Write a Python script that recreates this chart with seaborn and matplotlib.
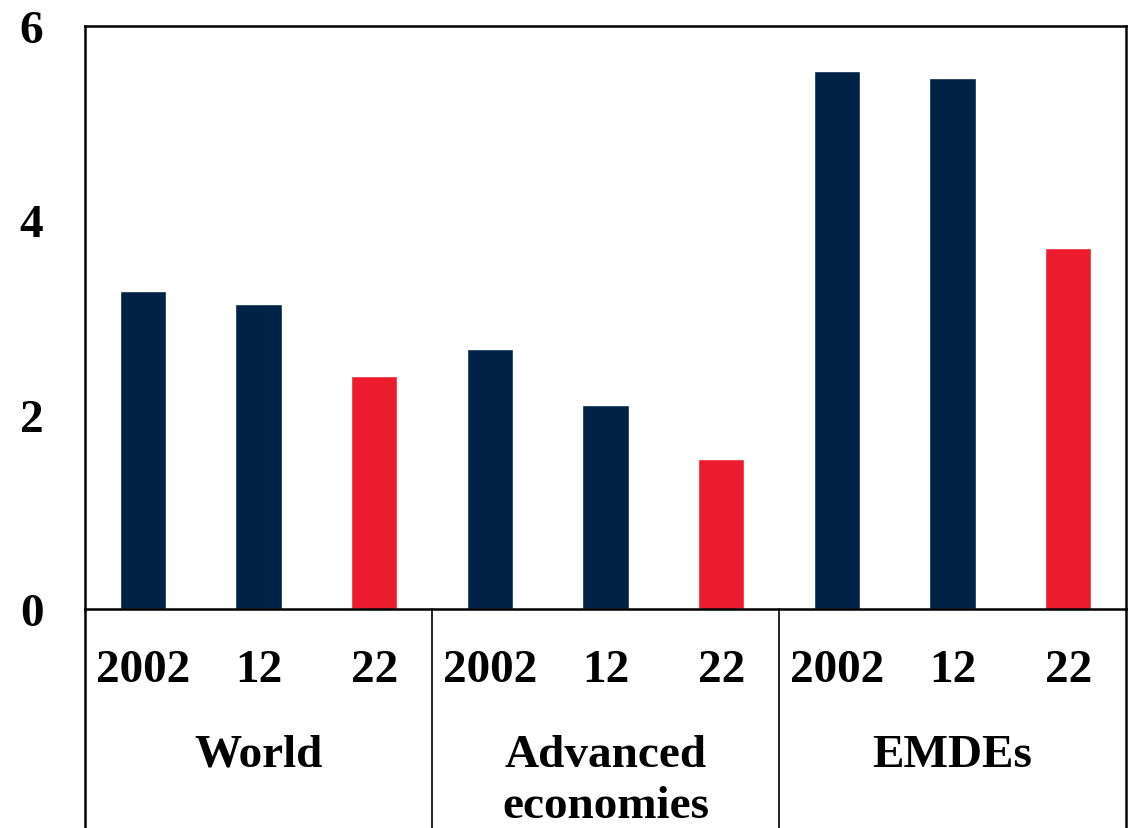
import matplotlib
matplotlib.use("Agg")
import matplotlib.pyplot as plt
import seaborn as sns
import pandas as pd

# Data
groups = ["World", "Advanced economies", "EMDEs"]
group_labels = [["World"], ["Advanced", "economies"], ["EMDEs"]]
years = ["2002", "12", "22"]
world = [3.27, 3.14, 2.40]
advanced = [2.68, 2.10, 1.54]
emdes = [5.54, 5.46, 3.72]
y_ticks = [0, 2, 4, 6]

NAVY = "#002345"
RED = "#EC1C2E"
palette = {"2002": NAVY, "12": NAVY, "22": RED}

rows = []
for g, vals in zip(groups, [world, advanced, emdes]):
    for y, v in zip(years, vals):
        rows.append({"key": f"{g} {y}", "group": g, "year": y, "value": v})
df = pd.DataFrame(rows)

sns.set_style("white")
plt.rcParams["font.family"] = ["Liberation Serif", "DejaVu Serif"]
plt.rcParams["font.weight"] = "bold"
plt.rcParams["text.color"] = "black"
plt.rcParams["ytick.color"] = "black"
plt.rcParams["ytick.labelcolor"] = "black"

fig = plt.figure(figsize=(11.35, 8.29), dpi=100)
ax = fig.add_axes([85 / 1135, 1 - 610 / 829, (1126 - 85) / 1135, (610 - 27) / 829])

sns.barplot(data=df, x="key", y="value", hue="year", palette=palette,
            order=df["key"].tolist(), hue_order=years, dodge=False,
            width=0.4, saturation=1, legend=False, ax=ax)

ax.set_xlim(-0.5, len(df) - 0.5)
ax.set_ylim(0, 6)
ax.set_yticks(y_ticks)
ax.set_yticklabels([str(t) for t in y_ticks], fontsize=34, fontweight="bold",
                   color="black")
ax.tick_params(axis="y", length=0, pad=30)
ax.set_xticks([])
ax.set_xlabel("")
ax.set_ylabel("")

for side in ["left", "right", "top", "bottom"]:
    ax.spines[side].set_visible(True)
    ax.spines[side].set_color("black")
    ax.spines[side].set_linewidth(1.8)

# Frame lines extending below the axis into the label area
ext = -(829 - 610) / (610 - 27)
for xpos in [-0.5, 2.5, 5.5, len(df) - 0.5]:
    lw = 1.8 if xpos in (-0.5, len(df) - 0.5) else 1.2
    ax.axvline(xpos, ymin=ext, ymax=0, color="black", lw=lw, clip_on=False)

trans = ax.get_xaxis_transform()
px = 1 / (610 - 27)
for i, key in enumerate(df["key"]):
    ax.text(i, -(682 - 610) * px, df["year"].iloc[i], transform=trans,
            ha="center", va="baseline", fontsize=34, fontweight="bold",
            color="black")

baselines = [767, 818]
for gi, lines in enumerate(group_labels):
    cx = gi * 3 + 1
    for li, line in enumerate(lines):
        ax.text(cx, -(baselines[li] - 610) * px, line, transform=trans,
                ha="center", va="baseline", fontsize=34, fontweight="bold",
                color="black", clip_on=False)

fig.savefig("out.png", dpi=100)
